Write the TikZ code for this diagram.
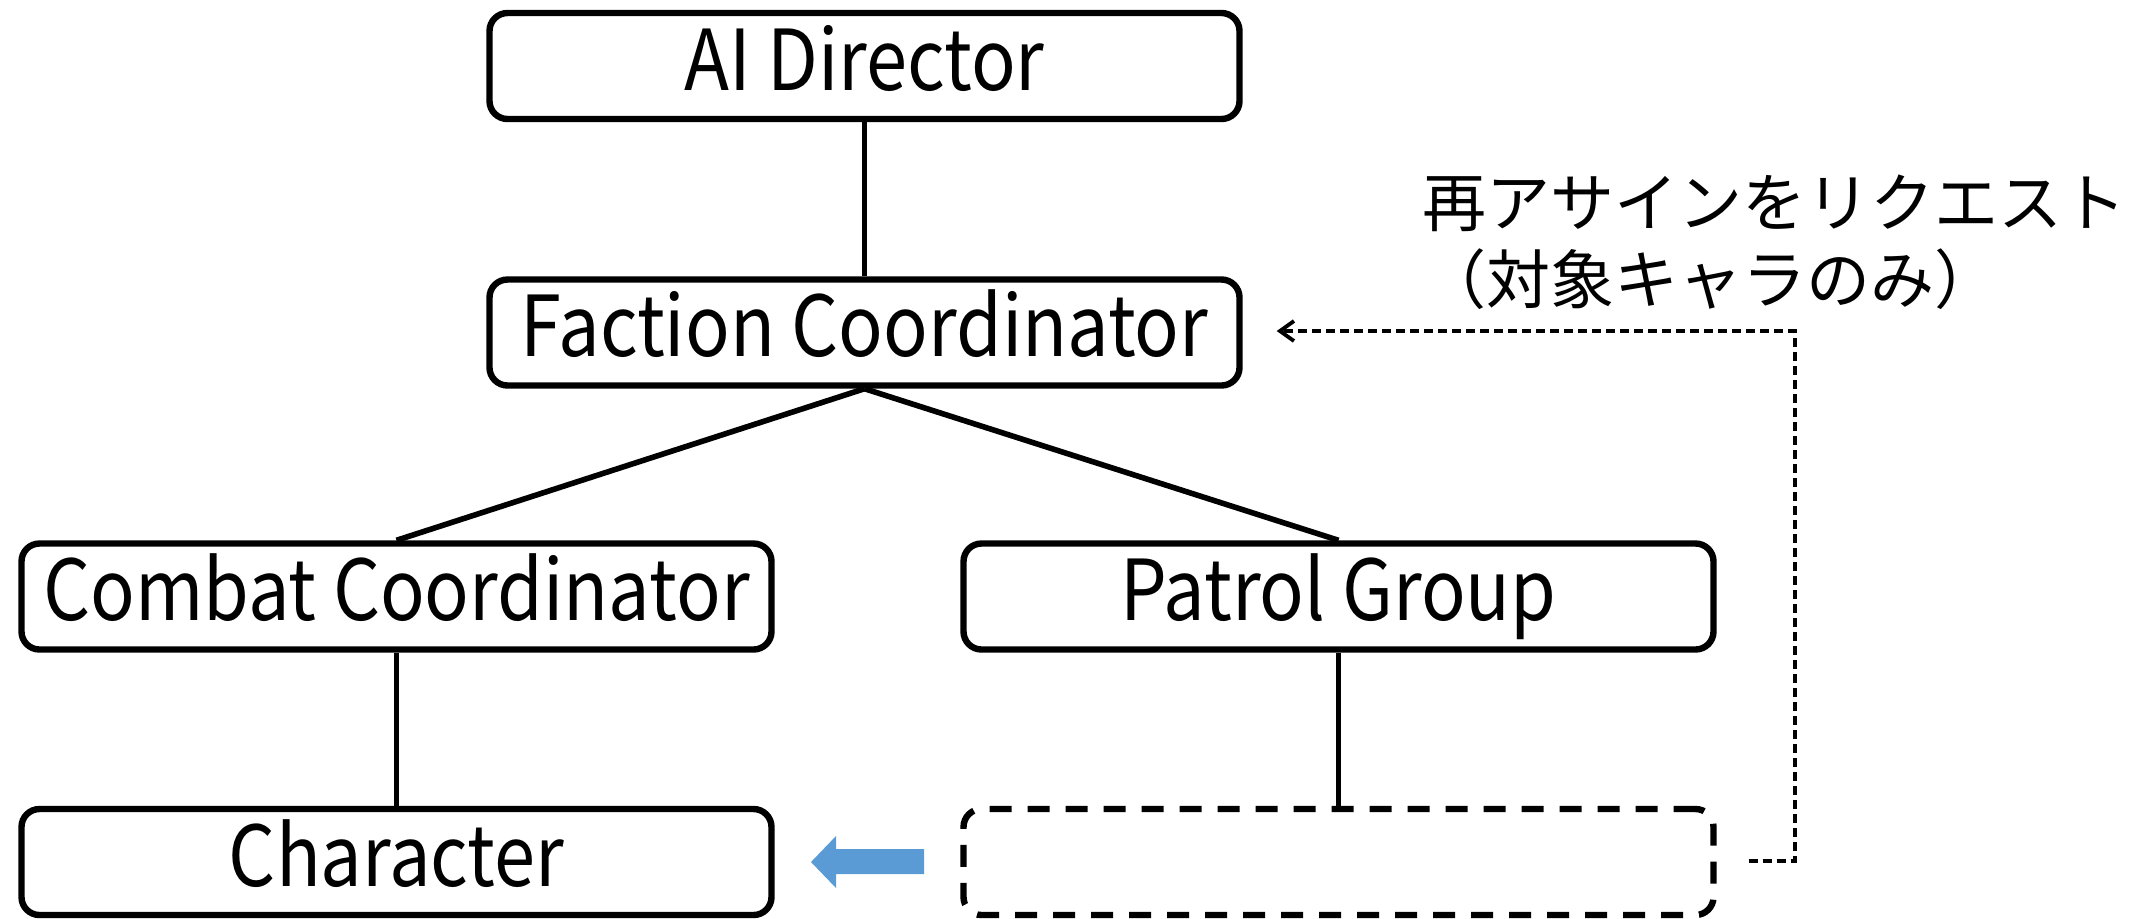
\documentclass[tikz,border=0pt]{standalone}
\usepackage{fontspec}
\setmainfont{Noto Sans CJK JP}
\newfontfamily\boxfont[FakeStretch=0.88]{Noto Sans CJK JP}
\usetikzlibrary{arrows.meta,calc}
\definecolor{officeblue}{HTML}{5B9BD5}
\begin{document}
\begin{tikzpicture}[x=0.5pt,y=-0.5pt,
  box/.style={draw, line width=3.2pt, rounded corners=9pt, minimum width=375pt, minimum height=53pt, inner sep=0pt,
    font=\boxfont\fontsize{42}{50}\selectfont, text height=30pt, text depth=6pt},
  ghostbox/.style={box, dash pattern=on 11pt off 8pt},
  link/.style={line width=2.8pt},
  reqline/.style={line width=1.9pt, dash pattern=on 4.5pt off 2.5pt, -{Straight Barb[length=7pt,width=10pt,line width=1.9pt]}},
  note/.style={inner sep=0pt, anchor=base west, font=\fontsize{32}{38}\selectfont}
]
\useasboundingbox (0,0) rectangle (2134,918);
\node[box] (AI) at (864.5,66) {AI Director};
\node[box] (FC) at (864.5,332.5) {Faction Coordinator};
\node[box] (CC) at (396.5,596.5) {Combat Coordinator};
\node[box] (PG) at (1338.5,596.5) {Patrol Group};
\node[box] (CH) at (396.5,862) {Character};
\node[ghostbox] (DB) at (1338.5,862) {};
\draw[link] (AI.south) -- (FC.north);
\draw[link] (FC.south) -- (CC.north);
\draw[link] (FC.south) -- (PG.north);
\draw[link] (CC.south) -- (CH.north);
\draw[link] (PG.south) -- (DB.north);
\fill[officeblue] (811,862) -- (836,836) -- (836,849) -- (924,849) -- (924,874) -- (836,874) -- (836,888) -- cycle;
\coordinate (rqs) at ($(DB.east)+(32,-1)$);
\coordinate (rqe) at ($(FC.east)+(34,-1.5)$);
\draw[reqline] (rqs) -- ++(46,0) |- (rqe);
\node[note] (n1) at (1422,226) {再アサインをリクエスト};
\node[note] (n2) at (1422,303) {（対象キャラのみ）};
\end{tikzpicture}
\end{document}
